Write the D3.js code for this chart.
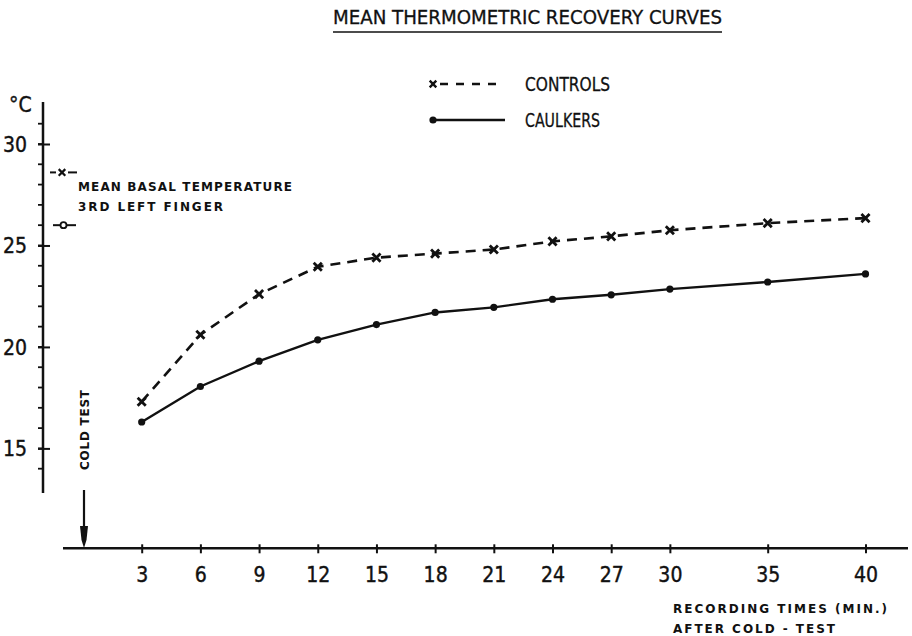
<!DOCTYPE html>
<html>
<head>
<meta charset="utf-8">
<script src="https://cdn.jsdelivr.net/npm/d3@7"></script>
<style>
  html, body { margin: 0; padding: 0; background: #fff; }
  svg { display: block; }
  .narrow { font-family: "Liberation Sans Narrow", "DejaVu Sans Condensed", "Roboto Condensed", "Liberation Sans", sans-serif; }
  .small { font-family: "DejaVu Sans", sans-serif; font-weight: bold; }
</style>
</head>
<body>
<script>
// Recording times after the cold test (minutes)
const times = [3, 6, 9, 12, 15, 18, 21, 24, 27, 30, 35, 40];
// Mean finger temperature (°C)
const controls = [17.3, 20.6, 22.6, 23.95, 24.4, 24.6, 24.8, 25.2, 25.45, 25.75, 26.1, 26.35];
const caulkers = [16.3, 18.05, 19.3, 20.35, 21.1, 21.7, 21.95, 22.35, 22.57, 22.85, 23.2, 23.6];
// Mean basal temperature, 3rd left finger
const basalControls = 28.6;
const basalCaulkers = 26.0;
// Axis ticks
const yMajorTicks = [15, 20, 25, 30];
const yMinorTicks = d3.range(14, 32);
const xTickLabels = times;

const W = 912, H = 636;
const ink = "#111";

const svg = d3.select("body").append("svg")
  .attr("width", W).attr("height", H);

const x = d3.scaleLinear().domain([3, 40]).range([141.7, 865.5]);
const y = d3.scaleLinear().domain([30, 15]).range([144, 448.4]);

const yAxisX = 43;
const xAxisY = 548.3;

// Title with underline
svg.append("text").attr("class", "narrow")
  .attr("x", 333).attr("y", 24)
  .attr("font-size", 20).attr("fill", ink)
  .attr("stroke", ink).attr("stroke-width", 0.3)
  .attr("textLength", 389).attr("lengthAdjust", "spacingAndGlyphs")
  .text("MEAN THERMOMETRIC RECOVERY CURVES");
svg.append("line")
  .attr("x1", 333).attr("x2", 722).attr("y1", 32).attr("y2", 32)
  .attr("stroke", ink).attr("stroke-width", 1.5);

// Y axis
svg.append("line")
  .attr("x1", yAxisX).attr("x2", yAxisX)
  .attr("y1", 102).attr("y2", 493)
  .attr("stroke", ink).attr("stroke-width", 2.5);

svg.append("g").selectAll("line").data(yMinorTicks).join("line")
  .attr("x1", 38).attr("x2", yAxisX)
  .attr("y1", d => y(d)).attr("y2", d => y(d))
  .attr("stroke", ink).attr("stroke-width", 1.8);

const yAxis = svg.append("g")
  .attr("transform", `translate(${yAxisX},0)`)
  .call(d3.axisLeft(y).tickValues(yMajorTicks).tickSize(5).tickPadding(11));
yAxis.select(".domain").remove();
yAxis.selectAll(".tick line").attr("x2", 7).attr("x1", -5)
  .attr("stroke", ink).attr("stroke-width", 2);
yAxis.selectAll(".tick text")
  .attr("class", "narrow").attr("font-size", 21).attr("fill", ink)
  .attr("stroke", ink).attr("stroke-width", 0.4)
  .attr("dy", "0.35em");

svg.append("text").attr("class", "narrow")
  .attr("x", 9).attr("y", 112)
  .attr("font-size", 21).attr("fill", ink)
  .attr("stroke", ink).attr("stroke-width", 0.4)
  .text("°C");

// X axis
svg.append("line")
  .attr("x1", 63).attr("x2", 908)
  .attr("y1", xAxisY).attr("y2", xAxisY)
  .attr("stroke", ink).attr("stroke-width", 2.5);

const xAxis = svg.append("g")
  .attr("transform", `translate(0,${xAxisY})`)
  .call(d3.axisBottom(x).tickValues(xTickLabels).tickSize(5).tickPadding(14).tickFormat(d3.format("d")));
xAxis.select(".domain").remove();
xAxis.selectAll(".tick line").attr("y1", -4).attr("y2", 5)
  .attr("stroke", ink).attr("stroke-width", 2);
xAxis.selectAll(".tick text")
  .attr("class", "narrow").attr("font-size", 21).attr("fill", ink)
  .attr("stroke", ink).attr("stroke-width", 0.4);

// X axis caption
svg.append("text").attr("class", "small")
  .attr("x", 673).attr("y", 613).attr("font-size", 12).attr("fill", ink)
  .attr("textLength", 214).attr("lengthAdjust", "spacing")
  .text("RECORDING TIMES (MIN.)");
svg.append("text").attr("class", "small")
  .attr("x", 673).attr("y", 633).attr("font-size", 12).attr("fill", ink)
  .attr("textLength", 162).attr("lengthAdjust", "spacing")
  .text("AFTER COLD - TEST");

// Cold test arrow
svg.append("line")
  .attr("x1", 84).attr("x2", 84).attr("y1", 490).attr("y2", 530)
  .attr("stroke", ink).attr("stroke-width", 2.2);
svg.append("path")
  .attr("d", "M80,526 L88,526 L86.5,540 L84,548 L81.5,540 Z")
  .attr("fill", ink);
svg.append("text").attr("class", "small")
  .attr("transform", "translate(88.5,430) rotate(-90)")
  .attr("text-anchor", "middle").attr("font-size", 12).attr("fill", ink)
  .attr("textLength", 80).attr("lengthAdjust", "spacing")
  .text("COLD TEST");

// Basal temperature markers
const basalG = svg.append("g");
basalG.append("line")
  .attr("x1", 50).attr("x2", 56).attr("y1", y(basalControls)).attr("y2", y(basalControls))
  .attr("stroke", ink).attr("stroke-width", 2);
basalG.append("line")
  .attr("x1", 68).attr("x2", 77).attr("y1", y(basalControls)).attr("y2", y(basalControls))
  .attr("stroke", ink).attr("stroke-width", 2);
basalG.append("path")
  .attr("transform", `translate(62,${y(basalControls)})`)
  .attr("d", d3.symbol(d3.symbolTimes, 30)())
  .attr("stroke", ink).attr("stroke-width", 2.2).attr("fill", "none");
basalG.append("line")
  .attr("x1", 53).attr("x2", 76).attr("y1", y(basalCaulkers)).attr("y2", y(basalCaulkers))
  .attr("stroke", ink).attr("stroke-width", 2);
basalG.append("circle")
  .attr("cx", 63.5).attr("cy", y(basalCaulkers)).attr("r", 3)
  .attr("fill", "#fff").attr("stroke", ink).attr("stroke-width", 1.8);

svg.append("text").attr("class", "small")
  .attr("x", 78).attr("y", 191).attr("font-size", 12).attr("fill", ink)
  .attr("textLength", 214).attr("lengthAdjust", "spacing")
  .text("MEAN BASAL TEMPERATURE");
svg.append("text").attr("class", "small")
  .attr("x", 78).attr("y", 211).attr("font-size", 12).attr("fill", ink)
  .attr("textLength", 145).attr("lengthAdjust", "spacing")
  .text("3RD LEFT FINGER");

// Curves
const line = d3.line().x(d => x(d[0])).y(d => y(d[1]));
const ctrlPts = times.map((t, i) => [t, controls[i]]);
const caulkPts = times.map((t, i) => [t, caulkers[i]]);

svg.append("path")
  .attr("d", line(ctrlPts))
  .attr("fill", "none").attr("stroke", ink).attr("stroke-width", 2.6)
  .attr("stroke-dasharray", "10,7");
svg.append("path")
  .attr("d", line(caulkPts))
  .attr("fill", "none").attr("stroke", ink).attr("stroke-width", 2.4);

svg.append("g").selectAll("path").data(ctrlPts).join("path")
  .attr("transform", d => `translate(${x(d[0])},${y(d[1])})`)
  .attr("d", d3.symbol(d3.symbolTimes, 45)())
  .attr("stroke", ink).attr("stroke-width", 2.8).attr("fill", "none");
svg.append("g").selectAll("circle").data(caulkPts).join("circle")
  .attr("cx", d => x(d[0])).attr("cy", d => y(d[1])).attr("r", 3.6)
  .attr("fill", ink);

// Legend
const legend = svg.append("g");
legend.append("path")
  .attr("transform", "translate(433,84)")
  .attr("d", d3.symbol(d3.symbolTimes, 30)())
  .attr("stroke", ink).attr("stroke-width", 2.4).attr("fill", "none");
legend.append("line")
  .attr("x1", 440).attr("x2", 500).attr("y1", 84).attr("y2", 84)
  .attr("stroke", ink).attr("stroke-width", 2.4).attr("stroke-dasharray", "8,8");
legend.append("text").attr("class", "narrow")
  .attr("x", 525).attr("y", 91).attr("font-size", 19).attr("fill", ink)
  .attr("stroke", ink).attr("stroke-width", 0.3)
  .attr("textLength", 85).attr("lengthAdjust", "spacingAndGlyphs")
  .text("CONTROLS");
legend.append("circle")
  .attr("cx", 433).attr("cy", 120).attr("r", 3.6).attr("fill", ink);
legend.append("line")
  .attr("x1", 433).attr("x2", 505).attr("y1", 120).attr("y2", 120)
  .attr("stroke", ink).attr("stroke-width", 2.4);
legend.append("text").attr("class", "narrow")
  .attr("x", 525).attr("y", 127).attr("font-size", 19).attr("fill", ink)
  .attr("stroke", ink).attr("stroke-width", 0.3)
  .attr("textLength", 75).attr("lengthAdjust", "spacingAndGlyphs")
  .text("CAULKERS");
</script>
</body>
</html>
